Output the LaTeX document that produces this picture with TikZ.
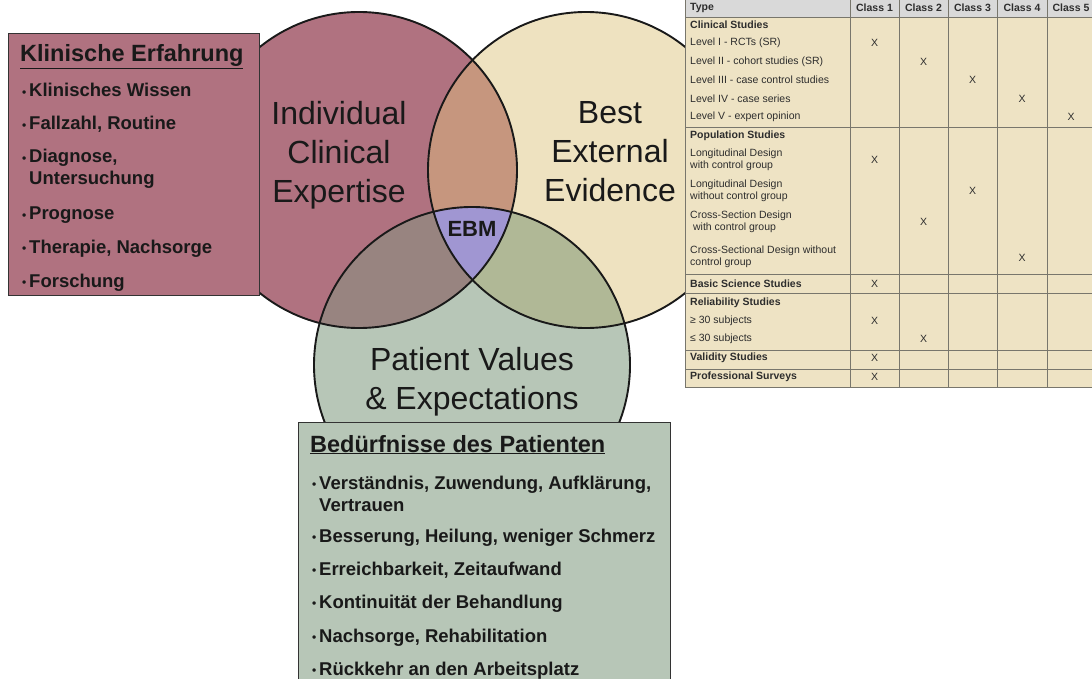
\documentclass[tikz,border=0pt]{standalone}
\usepackage{fontspec}
\setmainfont{Liberation Sans}
\usepackage{xcolor}
\definecolor{expertred}{RGB}{176,114,128}
\definecolor{evidbeige}{RGB}{238,226,192}
\definecolor{patgreen}{RGB}{183,198,183}
\definecolor{mixredbeige}{RGB}{198,150,126}
\definecolor{mixredgreen}{RGB}{152,132,128}
\definecolor{mixbeigegreen}{RGB}{176,184,150}
\definecolor{ebmblue}{RGB}{160,150,210}
\definecolor{tabbeige}{RGB}{238,227,196}
\definecolor{tabhead}{RGB}{217,217,217}
\definecolor{tabline}{RGB}{120,118,108}
\definecolor{tabtext}{RGB}{45,45,45}

\newcommand{\bul}{\makebox[7pt][l]{\raisebox{0.8pt}{\fontsize{12}{12}\selectfont\textbullet}}}
\newcommand{\itm}[1]{\bul\parbox[t]{420pt}{#1}}

\begin{document}
\begin{tikzpicture}[x=1pt,y=-1pt,
    venn/.style={line width=1.9pt,draw=black!90},
    circlabel/.style={align=center,inner sep=0pt,text=black!90,font=\fontsize{32}{39}\selectfont},
    infobox/.style={draw=black!80,line width=1.3pt,anchor=north west,inner sep=0pt},
    boxtitle/.style={anchor=base west,inner sep=0pt,text=black!90,font=\bfseries\fontsize{23.5}{28}\selectfont},
    boxitem/.style={anchor=base west,inner sep=0pt,text=black!90,font=\bfseries\fontsize{18.5}{22}\selectfont},
    typetxt/.style={anchor=west,inner sep=0pt,align=left,text=tabtext,font=\fontsize{10.5}{12}\selectfont},
    grouptxt/.style={typetxt,font=\bfseries\fontsize{10.5}{12}\selectfont},
    headtxt/.style={inner sep=0pt,text=tabtext,font=\bfseries\fontsize{10.5}{12}\selectfont},
    xmark/.style={inner sep=0pt,text=tabtext,font=\fontsize{10.5}{12}\selectfont}]
  \useasboundingbox (0,0) rectangle (1092,679);

  % Venn centres
  \coordinate (expert) at (359,170);
  \coordinate (evid) at (586,170);
  \coordinate (patient) at (472,365);

  % Circle fills and overlaps
  \fill[expertred] (expert) circle (158pt);
  \fill[evidbeige] (evid) circle (158pt);
  \fill[patgreen] (patient) circle (158pt);
  \begin{scope}
    \clip (expert) circle (158pt);
    \fill[mixredbeige] (evid) circle (158pt);
    \fill[mixredgreen] (patient) circle (158pt);
  \end{scope}
  \begin{scope}
    \clip (evid) circle (158pt);
    \fill[mixbeigegreen] (patient) circle (158pt);
  \end{scope}
  \begin{scope}
    \clip (expert) circle (158pt);
    \clip (evid) circle (158pt);
    \fill[ebmblue] (patient) circle (158pt);
  \end{scope}
  \draw[venn] (expert) circle (158pt);
  \draw[venn] (evid) circle (158pt);
  \draw[venn] (patient) circle (158pt);

  % Circle labels
  \node[circlabel] (expertlbl) at (339,155) {Individual\\Clinical\\Expertise};
  \node[circlabel] (evidlbl) at (610,152) {Best\\External\\Evidence};
  \node[circlabel] (patlbl) at (472,382) {Patient Values\\\& Expectations};
  \node[inner sep=0pt,text=black!90,font=\bfseries\fontsize{22}{26}\selectfont] (ebmlbl) at (472,229) {EBM};

  % Klinische Erfahrung box
  \node[infobox,fill=expertred,minimum width=251pt,minimum height=262pt] (klinbox) at (8,33) {};
  \node[boxtitle] (klintitle) at (20,62) {\underline{Klinische Erfahrung}};
  \node[boxitem] (klin1) at (22,97) {\itm{Klinisches Wissen}};
  \node[boxitem] (klin2) at (22,130) {\itm{Fallzahl, Routine}};
  \node[boxitem] (klin3) at (22,163) {\itm{Diagnose,\\Untersuchung}};
  \node[boxitem] (klin4) at (22,220) {\itm{Prognose}};
  \node[boxitem] (klin5) at (22,253) {\itm{Therapie, Nachsorge}};
  \node[boxitem] (klin6) at (22,287) {\itm{Forschung}};

  % Bedürfnisse box
  \node[infobox,fill=patgreen,minimum width=372pt,minimum height=275pt] (needbox) at (298,422) {};
  \node[boxtitle] (needtitle) at (310,452) {\underline{Bedürfnisse des Patienten}};
  \node[boxitem] (need1) at (312,489) {\itm{Verständnis, Zuwendung, Aufklärung,\\Vertrauen}};
  \node[boxitem] (need2) at (312,542) {\itm{Besserung, Heilung, weniger Schmerz}};
  \node[boxitem] (need3) at (312,575) {\itm{Erreichbarkeit, Zeitaufwand}};
  \node[boxitem] (need4) at (312,608) {\itm{Kontinuität der Behandlung}};
  \node[boxitem] (need5) at (312,642) {\itm{Nachsorge, Rehabilitation}};
  \node[boxitem] (need6) at (312,675) {\itm{Rückkehr an den Arbeitsplatz}};

  % Evidence table
  \fill[tabhead] (685,0) rectangle (1096,17);
  \fill[tabbeige] (685,17) rectangle (1096,387);
  \draw[tabline,line width=0.9pt] (685,17) -- (1096,17) (685,127) -- (1096,127)
    (685,274) -- (1096,274) (685,293) -- (1096,293) (685,350) -- (1096,350)
    (685,369) -- (1096,369) (685,387) -- (1096,387);
  \draw[tabline,line width=0.9pt] (685,0) -- (685,387) (850,0) -- (850,387)
    (899,0) -- (899,387) (948,0) -- (948,387) (997,0) -- (997,387) (1047,0) -- (1047,387);

  \node[headtxt,anchor=west] (thtype) at (690,7.5) {Type};
  \node[headtxt] (thc1) at (874.5,7.5) {Class 1};
  \node[headtxt] (thc2) at (923.5,7.5) {Class 2};
  \node[headtxt] (thc3) at (972.5,7.5) {Class 3};
  \node[headtxt] (thc4) at (1022,7.5) {Class 4};
  \node[headtxt] (thc5) at (1071,7.5) {Class 5};

  \node[grouptxt] (clin) at (690,25) {Clinical Studies};
  \node[typetxt] (lev1) at (690,43) {Level I - RCTs (SR)};
  \node[typetxt] (lev2) at (690,62) {Level II - cohort studies (SR)};
  \node[typetxt] (lev3) at (690,80) {Level III - case control studies};
  \node[typetxt] (lev4) at (690,99) {Level IV - case series};
  \node[typetxt] (lev5) at (690,117) {Level V - expert opinion};
  \node[grouptxt] (pop) at (690,136) {Population Studies};
  \node[typetxt] (long1) at (690,160) {Longitudinal Design\\with control group};
  \node[typetxt] (long2) at (690,191) {Longitudinal Design\\without control group};
  \node[typetxt] (cross1) at (690,222) {Cross-Section Design\\\ with control group};
  \node[typetxt] (cross2) at (690,257) {Cross-Sectional Design without\\control group};
  \node[grouptxt] (basic) at (690,284) {Basic Science Studies};
  \node[grouptxt] (relia) at (690,303) {Reliability Studies};
  \node[typetxt] (rel1) at (690,321) {≥ 30 subjects};
  \node[typetxt] (rel2) at (690,339) {≤ 30 subjects};
  \node[grouptxt] (valid) at (690,358) {Validity Studies};
  \node[grouptxt] (prof) at (690,377) {Professional Surveys};

  % X marks
  \node[xmark] (x1a) at (874.5,43) {X};
  \node[xmark] (x1b) at (874.5,160) {X};
  \node[xmark] (x1c) at (874.5,284) {X};
  \node[xmark] (x1d) at (874.5,321) {X};
  \node[xmark] (x1e) at (874.5,358) {X};
  \node[xmark] (x1f) at (874.5,377) {X};
  \node[xmark] (x2a) at (923.5,62) {X};
  \node[xmark] (x2b) at (923.5,222) {X};
  \node[xmark] (x2c) at (923.5,339) {X};
  \node[xmark] (x3a) at (972.5,80) {X};
  \node[xmark] (x3b) at (972.5,191) {X};
  \node[xmark] (x4a) at (1022,99) {X};
  \node[xmark] (x4b) at (1022,258) {X};
  \node[xmark] (x5a) at (1071,117) {X};
\end{tikzpicture}
\end{document}
